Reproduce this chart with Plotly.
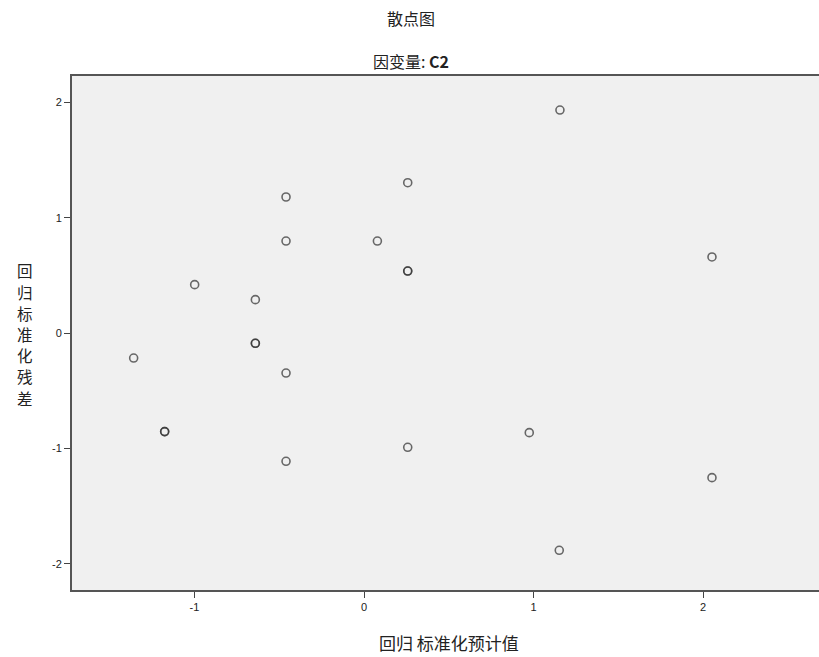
import plotly.graph_objects as go

# Regression standardized predicted value (x) vs standardized residual (y)
pred_std = [1.156, 0.258, -0.46, -0.46, 0.079, 0.258, 0.258, 2.053, -0.999,
            -0.641, -0.641, -0.641, -1.359, -0.46, -1.176, -1.176, 0.258,
            0.975, -0.46, 2.053, 1.152]
resid_std = [1.933, 1.303, 1.179, 0.797, 0.797, 0.537, 0.537, 0.659, 0.419,
             0.289, -0.089, -0.089, -0.217, -0.347, -0.855, -0.855, -0.991,
             -0.864, -1.112, -1.254, -1.884]

x_ticks = [-1, 0, 1, 2]
y_ticks = [-2, -1, 0, 1, 2]

title_main = "散点图"
title_sub = "因变量: <b>C2</b>"
x_title = "回归 标准化预计值"
y_title = "回归标准化残差"

W, H = 819, 657
L, R, T, B = 72, 0, 76, 67
PW, PH = W - L - R, H - T - B

cjk = "Noto Sans CJK SC, SimSun, sans-serif"
latin = "Liberation Sans, Arial, sans-serif"

fig = go.Figure()
fig.add_trace(go.Scatter(
    x=pred_std, y=resid_std, mode="markers",
    marker=dict(symbol="circle-open", size=8,
                color="rgba(50,50,50,0.72)",
                line=dict(width=1.6, color="rgba(50,50,50,0.72)")),
    hoverinfo="x+y", showlegend=False,
))

annotations = [
    dict(text=title_main, x=(411 - L) / PW, xref="paper", xanchor="center",
         y=1 + (T - 18) / PH, yref="paper", yanchor="middle",
         showarrow=False, font=dict(family=cjk, size=16, color="#222")),
    dict(text=title_sub, x=(411 - L) / PW, xref="paper", xanchor="center",
         y=1 + (T - 61) / PH, yref="paper", yanchor="middle",
         showarrow=False, font=dict(family=cjk, size=16, color="#222")),
    dict(text=x_title, x=(449 - L) / PW, xref="paper", xanchor="center",
         y=(590 - 642) / PH, yref="paper", yanchor="middle",
         showarrow=False, font=dict(family=cjk, size=17, color="#222")),
]
# vertical stacked y-axis title, one character per row
n = len(y_title)
step = 21.2
for i, ch in enumerate(y_title):
    py = 334 + (i - (n - 1) / 2) * step
    annotations.append(dict(
        text=ch, x=(25 - L) / PW, xref="paper", xanchor="center",
        y=(590 - py) / PH, yref="paper", yanchor="middle", showarrow=False,
        font=dict(family=cjk, size=15.5, color="#222")))

fig.update_layout(
    width=W, height=H,
    margin=dict(l=L, r=R, t=T, b=B),
    paper_bgcolor="white",
    plot_bgcolor="#f0f0f0",
    showlegend=False,
    annotations=annotations,
)

fig.update_xaxes(
    range=[(L - 364) / 169.5, (W - 364) / 169.5],
    tickvals=x_ticks, ticktext=[str(v) for v in x_ticks],
    showgrid=False, zeroline=False,
    showline=True, linecolor="#555", linewidth=2, mirror=True,
    ticks="outside", ticklen=6, tickwidth=1, tickcolor="#444",
    tickfont=dict(family=latin, size=11, color="#222"),
)
fig.update_yaxes(
    range=[-2.228, 2.228],
    tickvals=y_ticks, ticktext=[str(v) for v in y_ticks],
    showgrid=False, zeroline=False,
    showline=True, linecolor="#555", linewidth=2,
    ticks="outside", ticklen=6, tickwidth=1, tickcolor="#444",
    tickfont=dict(family=latin, size=11, color="#222"),
)

fig.write_html(
    "out.html",
    config={"displayModeBar": False},
    post_script="document.body.style.margin='0';document.body.style.overflow='hidden';",
)
